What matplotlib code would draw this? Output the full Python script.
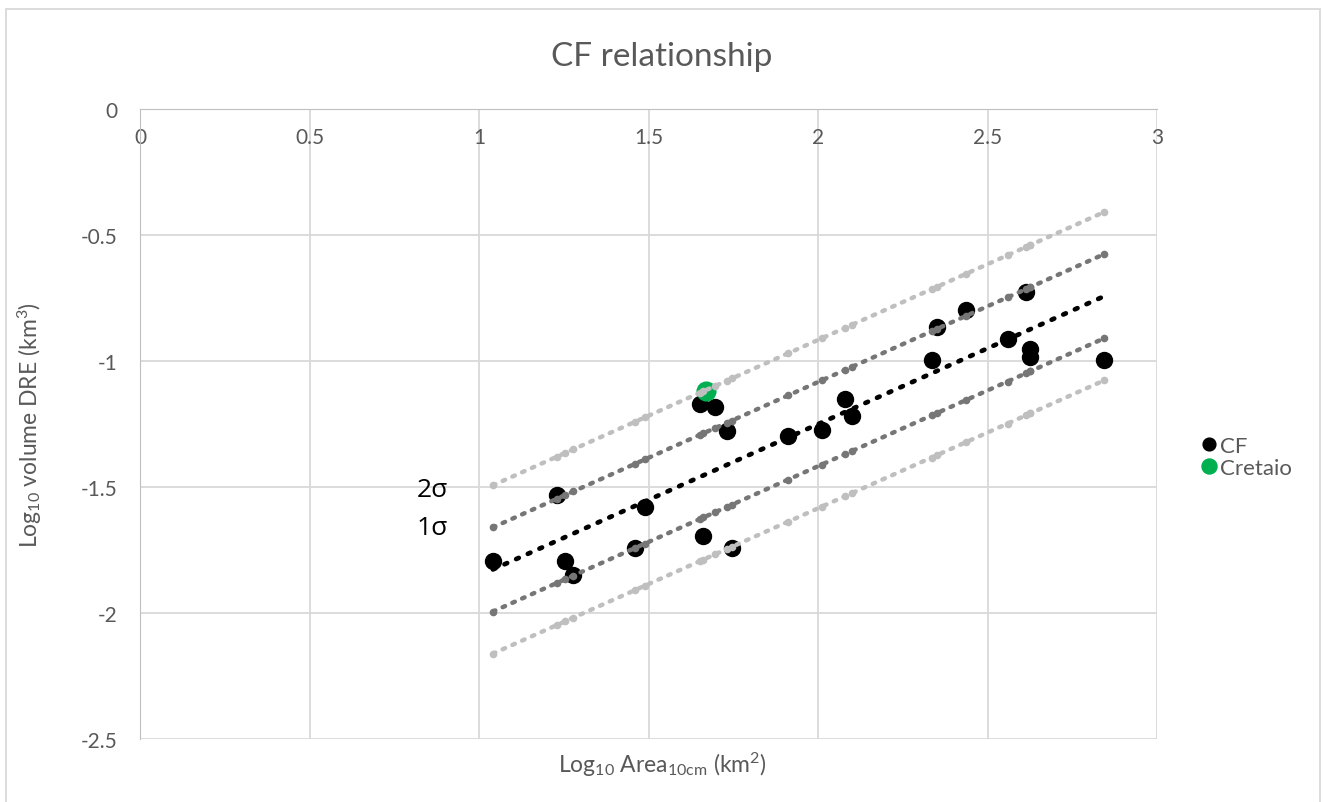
import numpy as np
import matplotlib.pyplot as plt
from matplotlib.patches import Rectangle

plt.rcParams['font.family'] = ['Lato', 'DejaVu Sans']
plt.rcParams['mathtext.fontset'] = 'custom'
plt.rcParams['mathtext.rm'] = 'Lato'
plt.rcParams['mathtext.it'] = 'Lato:italic'

# log10 area (km2) and log10 DRE volume (km3) for the CF deposits
cf_area = [1.041, 1.230, 1.254, 1.278, 1.461, 1.490, 1.652, 1.662, 1.696, 1.731,
           1.746, 1.912, 2.011, 2.081, 2.101, 2.335, 2.350, 2.436, 2.559, 2.614,
           2.626, 2.626, 2.844]
cf_vol = [-1.794, -1.532, -1.792, -1.849, -1.741, -1.581, -1.171, -1.693, -1.184, -1.279,
          -1.741, -1.296, -1.272, -1.151, -1.217, -0.996, -0.864, -0.798, -0.914, -0.725,
          -0.952, -0.985, -0.996]
cretaio_area = [1.670]
cretaio_vol = [-1.120]

grey_txt = '#595959'
grid_col = '#d9d9d9'

x = np.array(cf_area)
y = np.array(cf_vol)
p = np.polyfit(x, y, 1)
sd = np.std(y - np.polyval(p, x), ddof=1)
xs = np.sort(x)
fit = np.polyval(p, xs)

fig = plt.figure(figsize=(13.24, 8.03), dpi=100)
ax = fig.add_axes([140 / 1324, 1 - 740 / 803, 1017 / 1324, 630 / 803])

ax.plot(cf_area, cf_vol, 'o', color='black', ms=11.5, label='CF', zorder=3)
ax.plot(cretaio_area, cretaio_vol, 'o', color='#00b050', ms=13.5, label='Cretaio', zorder=3)

# 1 and 2 sigma envelopes around the trend
for k, col in [(2, '#bfbfbf'), (1, '#767676')]:
    for s in (1, -1):
        ax.plot(xs, fit + s * k * sd, color=col, lw=3.2, ls=(0, (0.6, 1.8)),
                dash_capstyle='round', marker='o', ms=5.5, mec='none', zorder=4)
ax.plot(xs, fit, color='black', lw=3.4, ls=(0, (0.6, 2.1)), dash_capstyle='round', zorder=4)

ax.set_xlim(0, 3)
ax.set_ylim(-2.5, 0)
ax.set_xticks(np.arange(0, 3.01, 0.5))
ax.set_xticklabels(['0', '0.5', '1', '1.5', '2', '2.5', '3'])
ax.set_yticks(np.arange(-2.5, 0.01, 0.5))
ax.set_yticklabels(['-2.5', '-2', '-1.5', '-1', '-0.5', '0'])
ax.grid(True, color=grid_col, lw=1.3)
ax.set_axisbelow(True)

# x axis crosses at y = 0, labels hang below it
ax.spines['bottom'].set_position(('data', 0))
ax.spines['bottom'].set_color('#bfbfbf')
ax.spines['left'].set_color('#bfbfbf')
ax.spines['top'].set_visible(False)
ax.spines['right'].set_visible(False)
ax.tick_params(length=0, labelsize=15, labelcolor=grey_txt)
ax.tick_params(axis='y', pad=16)
ax.tick_params(axis='x', pad=13)

ax.text(0.815, -1.51, '2σ', fontsize=19, va='center', family=['Open Sans', 'DejaVu Sans'])
ax.text(0.815, -1.66, '1σ', fontsize=19, va='center', family=['Open Sans', 'DejaVu Sans'])

fig.text(662 / 1324, 1 - 57 / 803, 'CF relationship', fontsize=24, color=grey_txt,
         ha='center', va='center')
fig.text(662 / 1324, 1 - 765 / 803, r'Log$_{10}$ Area$_{10\mathrm{cm}}$ (km$^2$)',
         fontsize=16.5, color=grey_txt, ha='center', va='center')
fig.text(30 / 1324, 1 - 425 / 803, r'Log$_{10}$ volume DRE (km$^3$)',
         fontsize=16.5, color=grey_txt, ha='center', va='center', rotation=90)

ax.legend(loc='center left', bbox_to_anchor=(1178 / 1324, 1 - 458 / 803),
          bbox_transform=fig.transFigure, frameon=False, fontsize=16,
          labelcolor=grey_txt, handletextpad=0.0, markerscale=0.8,
          handlelength=1.0, labelspacing=0.1)

fig.add_artist(Rectangle((6 / 1324, -0.05), 1314 / 1324, 1.05 - 10 / 803,
                         transform=fig.transFigure, fill=False, ec=grid_col, lw=1.3))

fig.savefig('out.png', dpi=100)
